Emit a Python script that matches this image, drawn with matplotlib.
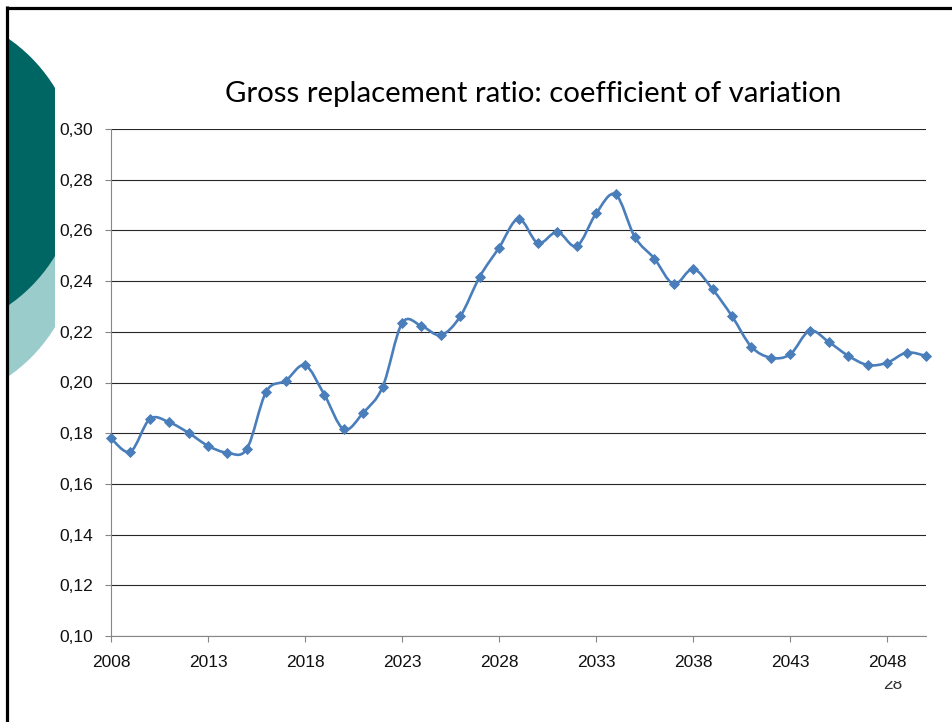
import numpy as np
import matplotlib
matplotlib.use('Agg')
import matplotlib.pyplot as plt
from matplotlib.path import Path
from matplotlib.patches import PathPatch, Circle, Rectangle
from matplotlib.ticker import FuncFormatter

# coefficient of variation of the gross replacement ratio, 2008-2050
years = list(range(2008, 2051))
cv = [0.1780, 0.1727, 0.1856, 0.1843, 0.1801, 0.1750, 0.1723, 0.1738,
      0.1964, 0.2007, 0.2068, 0.1951, 0.1815, 0.1881, 0.1983, 0.2234,
      0.2223, 0.2187, 0.2261, 0.2417, 0.2532, 0.2646, 0.2550, 0.2594,
      0.2538, 0.2667, 0.2742, 0.2573, 0.2489, 0.2388, 0.2448, 0.2368,
      0.2262, 0.2141, 0.2098, 0.2111, 0.2204, 0.2159, 0.2105, 0.2069,
      0.2078, 0.2118, 0.2105]
xticks = list(range(2008, 2049, 5))
yticks = [0.10, 0.12, 0.14, 0.16, 0.18, 0.20, 0.22, 0.24, 0.26, 0.28, 0.30]

W, H = 953, 722
blue = '#4A7EBB'
dark_teal = '#006663'
light_teal = '#99CCCB'


def smooth_path(x, y, t=1/6):
    # bezier segments through every point (excel style smoothed line)
    n = len(x)
    verts = [(x[0], y[0])]
    codes = [Path.MOVETO]
    for i in range(n - 1):
        a = max(i - 1, 0)
        b = min(i + 2, n - 1)
        c1 = (x[i] + (x[i + 1] - x[a]) * t, y[i] + (y[i + 1] - y[a]) * t)
        c2 = (x[i + 1] - (x[b] - x[i]) * t, y[i + 1] - (y[b] - y[i]) * t)
        verts += [c1, c2, (x[i + 1], y[i + 1])]
        codes += [Path.CURVE4] * 3
    return Path(verts, codes)


fig = plt.figure(figsize=(W / 100, H / 100), dpi=100)
fig.patch.set_facecolor('white')

# slide background: border, teal circles, page number
bg = fig.add_axes([0, 0, 1, 1], zorder=-1)
bg.set_xlim(0, W)
bg.set_ylim(H, 0)
bg.axis('off')
strip = Rectangle((6, 0), 49, H, transform=bg.transData)
for cy, col in [(243, light_teal), (172, dark_teal)]:
    c = Circle((-83.5, cy), 162, color=col, lw=0)
    bg.add_patch(c)
    c.set_clip_path(strip)
bg.plot([6, W], [7.5, 7.5], color='black', lw=2.3, solid_capstyle='butt')
bg.plot([7, 7], [6, H], color='black', lw=2.3, solid_capstyle='butt')
bg.text(893, 689, '28', fontsize=12.5, family='Liberation Sans',
        ha='center', va='baseline', color='#333333', zorder=1)
bg.add_patch(Rectangle((60, 112), W - 60, 569, color='white', lw=0, zorder=2))

fig.text(533.5 / W, 1 - 102 / H, 'Gross replacement ratio: coefficient of variation',
         family='Lato', fontsize=21.2, ha='center', va='baseline', color='black')

ax = fig.add_axes([111 / W, 1 - 636 / H, (926 - 111) / W, (636 - 129) / H])
ax.set_facecolor('none')
ax.set_xlim(2008, 2050)
ax.set_ylim(0.10, 0.30)

ax.add_patch(PathPatch(smooth_path(years, cv), fill=False, edgecolor=blue,
                       lw=1.9, capstyle='round', joinstyle='round',
                       clip_on=False, zorder=3))
ax.plot(years, cv, 'D', ms=5, color=blue, mec=blue, mew=0.6,
        clip_on=False, zorder=4)

ax.set_xticks(xticks)
ax.set_yticks(yticks)
ax.yaxis.set_major_formatter(FuncFormatter(lambda v, p: f'{v:.2f}'.replace('.', ',')))
ax.grid(axis='y', color='#262626', lw=0.8)
ax.set_axisbelow(True)
for s in ['top', 'right']:
    ax.spines[s].set_visible(False)
for s in ['left', 'bottom']:
    ax.spines[s].set_color('#868686')
    ax.spines[s].set_linewidth(0.8)
ax.tick_params(axis='both', direction='out', color='#868686', width=0.8,
               length=4, labelsize=12.5, labelcolor='#111111')
ax.tick_params(axis='y', pad=9)
ax.tick_params(axis='x', pad=10)
for lab in ax.get_xticklabels() + ax.get_yticklabels():
    lab.set_family('Liberation Sans')

fig.savefig('out.png', dpi=100)
